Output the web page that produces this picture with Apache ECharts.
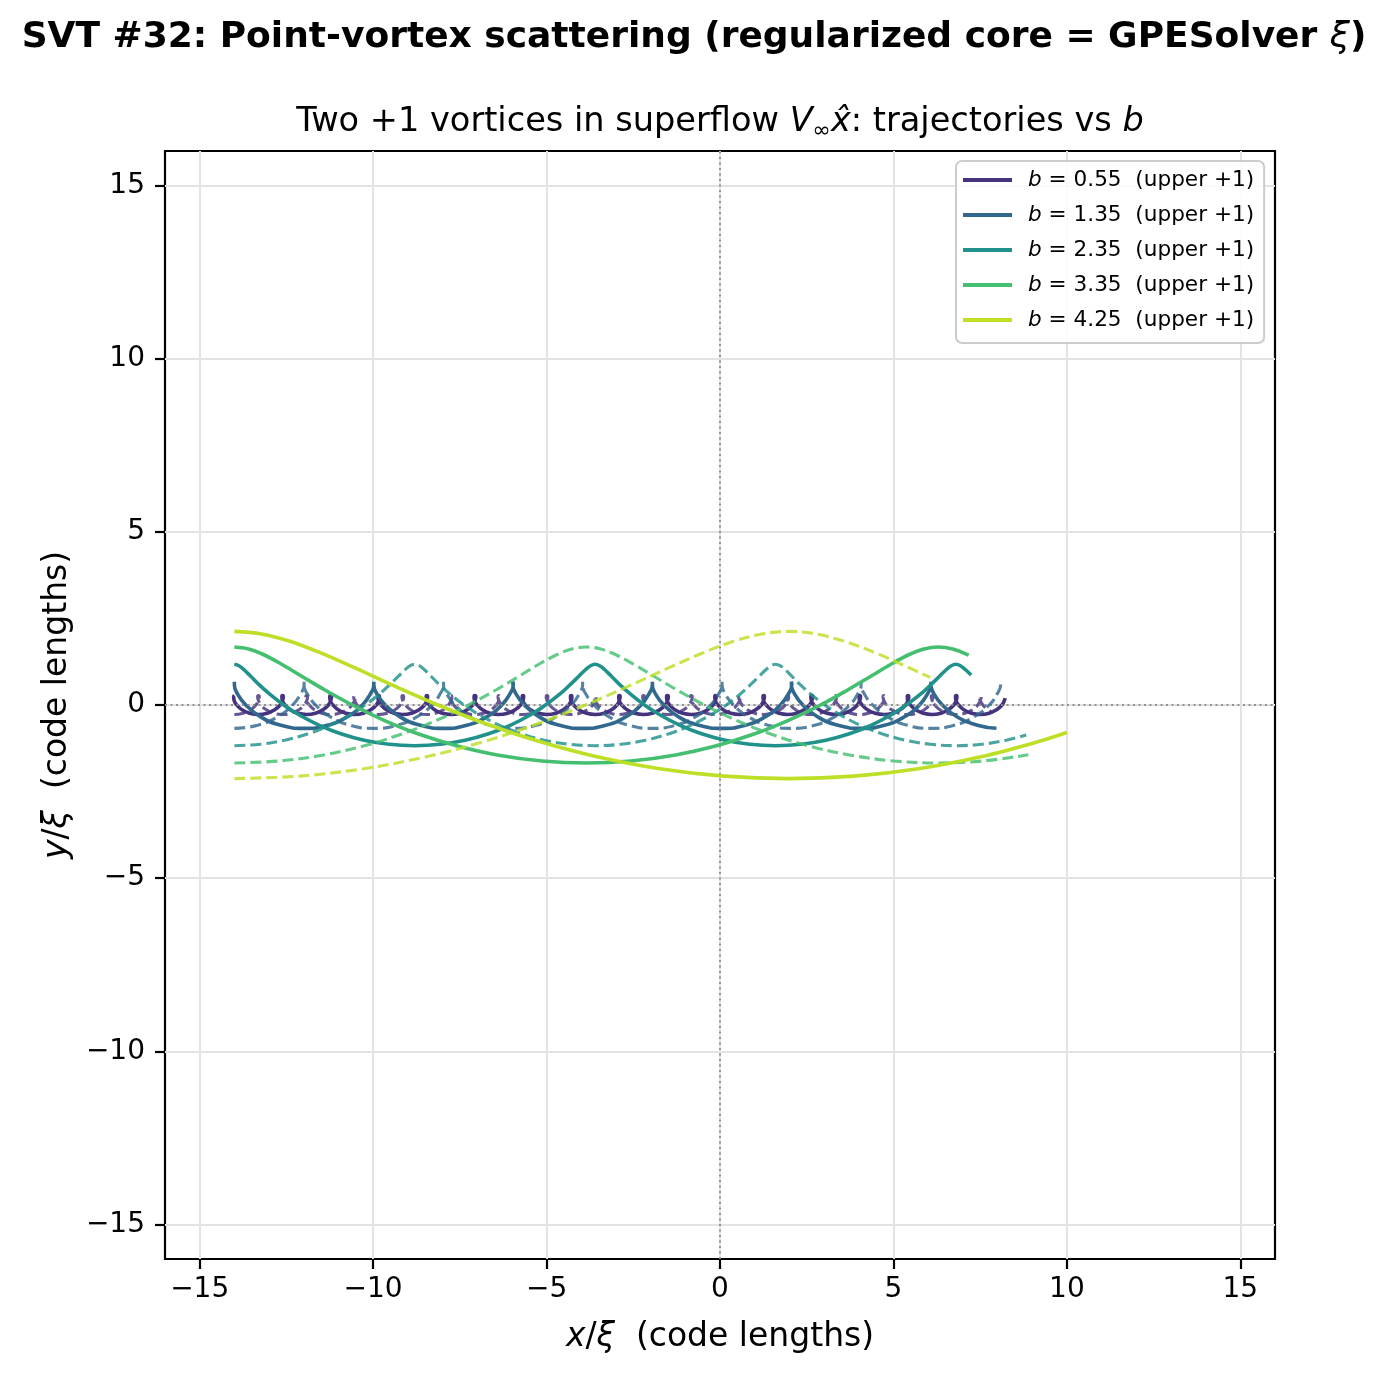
<!DOCTYPE html>
<html>
<head>
<meta charset="utf-8">
<script src="https://cdn.jsdelivr.net/npm/echarts@6/dist/echarts.min.js"></script>
<style>html,body{margin:0;padding:0;background:#fff;}#c{width:1388px;height:1375px;}</style>
</head>
<body>
<div id="c"></div>
<script>
// ---- data ----
const bValues = [0.55, 1.35, 2.35, 3.35, 4.25];
const colors = ['#46337e', '#31688e', '#21918c', '#44bf70', '#bddf26'];
const tickValues = [-15, -10, -5, 0, 5, 10, 15];

const upper055 = [
[-14,0.275],[-14.02,0.238],[-14.01,0.138],[-13.93,0],[-13.78,-0.138],[-13.56,-0.238],[-13.31,-0.275],[-13.05,-0.238],[-12.84,-0.138],[-12.68,0],[-12.61,0.138],[-12.59,0.238],
[-12.61,0.275],[-12.63,0.238],[-12.62,0.138],[-12.54,0],[-12.39,-0.138],[-12.17,-0.238],[-11.92,-0.275],[-11.66,-0.238],[-11.45,-0.138],[-11.29,0],[-11.22,0.138],[-11.20,0.238],
[-11.23,0.275],[-11.25,0.238],[-11.24,0.138],[-11.16,0],[-11.01,-0.138],[-10.79,-0.238],[-10.54,-0.275],[-10.28,-0.238],[-10.07,-0.138],[-9.91,0],[-9.84,0.138],[-9.82,0.238],
[-9.84,0.275],[-9.86,0.238],[-9.85,0.138],[-9.77,0],[-9.62,-0.138],[-9.40,-0.238],[-9.15,-0.275],[-8.89,-0.238],[-8.68,-0.138],[-8.52,0],[-8.45,0.138],[-8.43,0.238],
[-8.45,0.275],[-8.47,0.238],[-8.46,0.138],[-8.38,0],[-8.23,-0.138],[-8.01,-0.238],[-7.76,-0.275],[-7.50,-0.238],[-7.29,-0.138],[-7.13,0],[-7.06,0.138],[-7.04,0.238],
[-7.07,0.275],[-7.09,0.238],[-7.08,0.138],[-7.00,0],[-6.85,-0.138],[-6.63,-0.238],[-6.38,-0.275],[-6.12,-0.238],[-5.91,-0.138],[-5.75,0],[-5.68,0.138],[-5.66,0.238],
[-5.68,0.275],[-5.70,0.238],[-5.69,0.138],[-5.61,0],[-5.46,-0.138],[-5.24,-0.238],[-4.99,-0.275],[-4.73,-0.238],[-4.52,-0.138],[-4.36,0],[-4.29,0.138],[-4.27,0.238],
[-4.29,0.275],[-4.31,0.238],[-4.30,0.138],[-4.22,0],[-4.07,-0.138],[-3.85,-0.238],[-3.60,-0.275],[-3.34,-0.238],[-3.13,-0.138],[-2.97,0],[-2.90,0.138],[-2.88,0.238],
[-2.90,0.275],[-2.92,0.238],[-2.91,0.138],[-2.83,0],[-2.68,-0.138],[-2.46,-0.238],[-2.21,-0.275],[-1.95,-0.238],[-1.74,-0.138],[-1.58,0],[-1.51,0.138],[-1.49,0.238],
[-1.52,0.275],[-1.54,0.238],[-1.53,0.138],[-1.45,0],[-1.30,-0.138],[-1.08,-0.238],[-0.83,-0.275],[-0.57,-0.238],[-0.36,-0.138],[-0.20,0],[-0.13,0.138],[-0.11,0.238],
[-0.13,0.275],[-0.15,0.238],[-0.14,0.138],[-0.06,0],[0.09,-0.138],[0.31,-0.238],[0.56,-0.275],[0.82,-0.238],[1.03,-0.138],[1.19,0],[1.26,0.138],[1.28,0.238],
[1.26,0.275],[1.24,0.238],[1.25,0.138],[1.33,0],[1.48,-0.138],[1.70,-0.238],[1.95,-0.275],[2.21,-0.238],[2.42,-0.138],[2.58,0],[2.65,0.138],[2.67,0.238],
[2.64,0.275],[2.62,0.238],[2.63,0.138],[2.71,0],[2.86,-0.138],[3.08,-0.238],[3.33,-0.275],[3.59,-0.238],[3.80,-0.138],[3.96,0],[4.03,0.138],[4.05,0.238],
[4.03,0.275],[4.01,0.238],[4.02,0.138],[4.10,0],[4.25,-0.138],[4.47,-0.238],[4.72,-0.275],[4.98,-0.238],[5.19,-0.138],[5.35,0],[5.42,0.138],[5.44,0.238],
[5.42,0.275],[5.40,0.238],[5.41,0.138],[5.49,0],[5.64,-0.138],[5.86,-0.238],[6.11,-0.275],[6.37,-0.238],[6.58,-0.138],[6.74,0],[6.81,0.138],[6.83,0.238],
[6.81,0.275],[6.79,0.238],[6.80,0.138],[6.88,0],[7.03,-0.138],[7.25,-0.238],[7.50,-0.275],[7.76,-0.238],[7.97,-0.138],[8.13,0],[8.20,0.138],[8.22,0.200]
];
const lower055 = [
[-14,-0.275],[-13.75,-0.238],[-13.53,-0.138],[-13.38,0],[-13.30,0.138],[-13.28,0.238],[-13.31,0.275],[-13.33,0.238],[-13.31,0.138],[-13.23,0],[-13.08,-0.138],[-12.87,-0.238],
[-12.61,-0.275],[-12.36,-0.238],[-12.14,-0.138],[-11.99,0],[-11.91,0.138],[-11.89,0.238],[-11.92,0.275],[-11.94,0.238],[-11.92,0.138],[-11.84,0],[-11.69,-0.138],[-11.48,-0.238],
[-11.23,-0.275],[-10.98,-0.238],[-10.76,-0.138],[-10.61,0],[-10.53,0.138],[-10.51,0.238],[-10.54,0.275],[-10.56,0.238],[-10.54,0.138],[-10.46,0],[-10.31,-0.138],[-10.10,-0.238],
[-9.84,-0.275],[-9.59,-0.238],[-9.37,-0.138],[-9.22,0],[-9.14,0.138],[-9.12,0.238],[-9.15,0.275],[-9.17,0.238],[-9.15,0.138],[-9.07,0],[-8.92,-0.138],[-8.71,-0.238],
[-8.45,-0.275],[-8.20,-0.238],[-7.98,-0.138],[-7.83,0],[-7.75,0.138],[-7.73,0.238],[-7.76,0.275],[-7.78,0.238],[-7.76,0.138],[-7.68,0],[-7.53,-0.138],[-7.32,-0.238],
[-7.07,-0.275],[-6.82,-0.238],[-6.60,-0.138],[-6.45,0],[-6.37,0.138],[-6.35,0.238],[-6.38,0.275],[-6.40,0.238],[-6.38,0.138],[-6.30,0],[-6.15,-0.138],[-5.94,-0.238],
[-5.68,-0.275],[-5.43,-0.238],[-5.21,-0.138],[-5.06,0],[-4.98,0.138],[-4.96,0.238],[-4.99,0.275],[-5.01,0.238],[-4.99,0.138],[-4.91,0],[-4.76,-0.138],[-4.55,-0.238],
[-4.29,-0.275],[-4.04,-0.238],[-3.82,-0.138],[-3.67,0],[-3.59,0.138],[-3.57,0.238],[-3.60,0.275],[-3.62,0.238],[-3.60,0.138],[-3.52,0],[-3.37,-0.138],[-3.16,-0.238],
[-2.90,-0.275],[-2.65,-0.238],[-2.43,-0.138],[-2.28,0],[-2.20,0.138],[-2.18,0.238],[-2.21,0.275],[-2.23,0.238],[-2.21,0.138],[-2.13,0],[-1.98,-0.138],[-1.77,-0.238],
[-1.52,-0.275],[-1.27,-0.238],[-1.05,-0.138],[-0.90,0],[-0.82,0.138],[-0.80,0.238],[-0.83,0.275],[-0.85,0.238],[-0.83,0.138],[-0.75,0],[-0.60,-0.138],[-0.39,-0.238],
[-0.13,-0.275],[0.12,-0.238],[0.34,-0.138],[0.49,0],[0.57,0.138],[0.59,0.238],[0.56,0.275],[0.54,0.238],[0.56,0.138],[0.64,0],[0.79,-0.138],[1.00,-0.238],
[1.26,-0.275],[1.51,-0.238],[1.73,-0.138],[1.88,0],[1.96,0.138],[1.98,0.238],[1.95,0.275],[1.93,0.238],[1.95,0.138],[2.03,0],[2.18,-0.138],[2.39,-0.238],
[2.64,-0.275],[2.89,-0.238],[3.11,-0.138],[3.26,0],[3.34,0.138],[3.36,0.238],[3.33,0.275],[3.31,0.238],[3.33,0.138],[3.41,0],[3.56,-0.138],[3.77,-0.238],
[4.03,-0.275],[4.28,-0.238],[4.50,-0.138],[4.65,0],[4.73,0.138],[4.75,0.238],[4.72,0.275],[4.70,0.238],[4.72,0.138],[4.80,0],[4.95,-0.138],[5.16,-0.238],
[5.42,-0.275],[5.67,-0.238],[5.89,-0.138],[6.04,0],[6.12,0.138],[6.14,0.238],[6.11,0.275],[6.09,0.238],[6.11,0.138],[6.19,0],[6.34,-0.138],[6.55,-0.238],
[6.81,-0.275],[7.06,-0.238],[7.28,-0.138],[7.43,0],[7.51,0.138],[7.53,0.238],[7.50,0.275],[7.48,0.238],[7.50,0.138],[7.58,0],[7.73,-0.138],[7.84,-0.200]
];
const upper135 = [
[-14,0.675],[-14.00,0.585],[-13.92,0.338],[-13.67,0],[-13.25,-0.338],[-12.66,-0.585],[-11.99,-0.675],[-11.32,-0.585],[-10.74,-0.338],[-10.31,0],[-10.07,0.338],[-9.98,0.585],
[-9.98,0.675],[-9.98,0.585],[-9.90,0.338],[-9.65,0],[-9.23,-0.338],[-8.64,-0.585],[-7.97,-0.675],[-7.30,-0.585],[-6.72,-0.338],[-6.29,0],[-6.05,0.338],[-5.96,0.585],
[-5.97,0.675],[-5.97,0.585],[-5.89,0.338],[-5.64,0],[-5.22,-0.338],[-4.63,-0.585],[-3.96,-0.675],[-3.29,-0.585],[-2.71,-0.338],[-2.28,0],[-2.04,0.338],[-1.95,0.585],
[-1.95,0.675],[-1.95,0.585],[-1.87,0.338],[-1.62,0],[-1.20,-0.338],[-0.61,-0.585],[0.06,-0.675],[0.73,-0.585],[1.31,-0.338],[1.74,0],[1.98,0.338],[2.07,0.585],
[2.06,0.675],[2.06,0.585],[2.14,0.338],[2.39,0],[2.81,-0.338],[3.40,-0.585],[4.07,-0.675],[4.74,-0.585],[5.32,-0.338],[5.75,0],[5.99,0.338],[6.08,0.585],
[6.08,0.675],[6.08,0.585],[6.16,0.338],[6.41,0],[6.83,-0.338],[7.42,-0.585],[7.97,-0.672]
];
const lower135 = [
[-14,-0.675],[-13.33,-0.585],[-12.75,-0.338],[-12.32,0],[-12.08,0.338],[-11.99,0.585],[-11.99,0.675],[-11.99,0.585],[-11.91,0.338],[-11.66,0],[-11.24,-0.338],[-10.66,-0.585],
[-9.98,-0.675],[-9.31,-0.585],[-8.73,-0.338],[-8.30,0],[-8.06,0.338],[-7.97,0.585],[-7.97,0.675],[-7.97,0.585],[-7.89,0.338],[-7.64,0],[-7.22,-0.338],[-6.64,-0.585],
[-5.97,-0.675],[-5.30,-0.585],[-4.72,-0.338],[-4.29,0],[-4.05,0.338],[-3.96,0.585],[-3.96,0.675],[-3.96,0.585],[-3.88,0.338],[-3.63,0],[-3.21,-0.338],[-2.63,-0.585],
[-1.95,-0.675],[-1.28,-0.585],[-0.70,-0.338],[-0.27,0],[-0.03,0.338],[0.06,0.585],[0.06,0.675],[0.06,0.585],[0.14,0.338],[0.39,0],[0.81,-0.338],[1.39,-0.585],
[2.06,-0.675],[2.73,-0.585],[3.31,-0.338],[3.74,0],[3.98,0.338],[4.07,0.585],[4.07,0.675],[4.07,0.585],[4.15,0.338],[4.40,0],[4.82,-0.338],[5.40,-0.585],
[6.08,-0.675],[6.75,-0.585],[7.33,-0.338],[7.76,0],[8.00,0.338],[8.09,0.585],[8.09,0.672]
];
const upper235 = [
[-14,1.175],[-13.87,1.135],[-13.72,1.018],[-13.53,0.831],[-13.29,0.588],[-12.97,0.304],[-12.58,0],[-12.10,-0.304],[-11.55,-0.588],[-10.93,-0.831],[-10.26,-1.018],[-9.54,-1.135],
[-8.80,-1.175],[-8.06,-1.135],[-7.35,-1.018],[-6.67,-0.831],[-6.05,-0.588],[-5.50,-0.304],[-5.03,0],[-4.63,0.304],[-4.32,0.588],[-4.07,0.831],[-3.88,1.018],[-3.73,1.135],
[-3.60,1.175],[-3.47,1.135],[-3.32,1.018],[-3.13,0.831],[-2.89,0.588],[-2.57,0.304],[-2.18,0],[-1.70,-0.304],[-1.15,-0.588],[-0.53,-0.831],[0.15,-1.018],[0.86,-1.135],
[1.60,-1.175],[2.34,-1.135],[3.05,-1.018],[3.73,-0.831],[4.35,-0.588],[4.90,-0.304],[5.37,0],[5.77,0.304],[6.08,0.588],[6.33,0.831],[6.52,1.018],[6.67,1.135],
[6.80,1.175],[6.93,1.135],[7.08,1.018],[7.24,0.864]
];
const lower235 = [
[-14,-1.175],[-13.26,-1.135],[-12.55,-1.018],[-11.87,-0.831],[-11.25,-0.588],[-10.70,-0.304],[-10.23,0],[-9.83,0.304],[-9.52,0.588],[-9.27,0.831],[-9.08,1.018],[-8.93,1.135],
[-8.80,1.175],[-8.67,1.135],[-8.52,1.018],[-8.33,0.831],[-8.09,0.588],[-7.77,0.304],[-7.38,0],[-6.90,-0.304],[-6.35,-0.588],[-5.73,-0.831],[-5.06,-1.018],[-4.34,-1.135],
[-3.60,-1.175],[-2.86,-1.135],[-2.15,-1.018],[-1.47,-0.831],[-0.85,-0.588],[-0.30,-0.304],[0.18,0],[0.57,0.304],[0.88,0.588],[1.13,0.831],[1.32,1.018],[1.47,1.135],
[1.60,1.175],[1.73,1.135],[1.88,1.018],[2.07,0.831],[2.31,0.588],[2.63,0.304],[3.02,0],[3.50,-0.304],[4.05,-0.588],[4.67,-0.831],[5.34,-1.018],[6.06,-1.135],
[6.80,-1.175],[7.54,-1.135],[8.25,-1.018],[8.83,-0.864]
];
const upper335 = [
[-14,1.675],[-13.59,1.618],[-13.15,1.451],[-12.65,1.184],[-12.07,0.838],[-11.39,0.434],[-10.60,0],[-9.70,-0.434],[-8.69,-0.838],[-7.57,-1.184],[-6.38,-1.451],[-5.13,-1.618],
[-3.85,-1.675],[-2.57,-1.618],[-1.32,-1.451],[-0.13,-1.184],[0.98,-0.838],[1.99,-0.434],[2.90,0],[3.68,0.434],[4.36,0.838],[4.94,1.184],[5.44,1.451],[5.88,1.618],
[6.29,1.675],[6.71,1.618],[7.17,1.439]
];
const lower335 = [
[-14,-1.675],[-12.72,-1.618],[-11.47,-1.451],[-10.28,-1.184],[-9.17,-0.838],[-8.15,-0.434],[-7.25,0],[-6.46,0.434],[-5.78,0.838],[-5.21,1.184],[-4.71,1.451],[-4.27,1.618],
[-3.85,1.675],[-3.44,1.618],[-3.00,1.451],[-2.50,1.184],[-1.92,0.838],[-1.24,0.434],[-0.45,0],[0.45,-0.434],[1.46,-0.838],[2.57,-1.184],[3.77,-1.451],[5.02,-1.618],
[6.29,-1.675],[7.57,-1.618],[8.89,-1.439]
];
const upper425 = [
[-14,2.125],[-13.22,2.053],[-12.40,1.840],[-11.51,1.503],[-10.51,1.063],[-9.39,0.550],[-8.13,0],[-6.73,-0.550],[-5.18,-1.063],[-3.51,-1.503],[-1.74,-1.840],[0.11,-2.053],
[1.99,-2.125],[3.87,-2.053],[5.72,-1.840],[7.49,-1.503],[9.16,-1.063],[10.0,-0.796]
];
const lower425 = [
[-14,-2.125],[-12.12,-2.053],[-10.27,-1.840],[-8.50,-1.503],[-6.83,-1.063],[-5.28,-0.550],[-3.88,0],[-2.62,0.550],[-1.50,1.063],[-0.50,1.503],[0.39,1.840],[1.21,2.053],
[1.99,2.125],[2.77,2.053],[3.59,1.840],[4.49,1.503],[5.48,1.063],[6.06,0.796]
];

const uppers = [upper055, upper135, upper235, upper335, upper425];
const lowers = [lower055, lower135, lower235, lower335, lower425];
const smoothness = [0.5, 0.5, 0.35, 0.35, 0.35];

// ---- chart ----
const FONT = 'DejaVu Sans';
const chart = echarts.init(document.getElementById('c'), null, {renderer: 'canvas'});
const fmtTick = v => (v < 0 ? '\u2212' + Math.abs(v) : String(v));

const series = [{
  type: 'line', data: [], silent: true, z: 1,
  markLine: {
    silent: true, symbol: 'none', label: {show: false},
    lineStyle: {color: '#8a8a8a', width: 2, type: [2, 3.5], opacity: 0.9},
    data: [{xAxis: 0}, {yAxis: 0}]
  }
}];
const upperNames = [];
bValues.forEach((b, i) => {
  const nm = 'upper' + b.toFixed(2);
  upperNames.push(nm);
  series.push({
    name: nm, type: 'line', data: uppers[i], showSymbol: false, symbol: 'none',
    smooth: smoothness[i], z: 2 + i * 2, silent: true,
    itemStyle: {color: colors[i]},
    lineStyle: {color: colors[i], width: 3.6}
  });
  series.push({
    name: 'lower' + b.toFixed(2), type: 'line', data: lowers[i], showSymbol: false, symbol: 'none',
    smooth: smoothness[i], z: 3 + i * 2, silent: true,
    itemStyle: {color: colors[i]},
    lineStyle: {color: colors[i], width: 3.1, type: [11, 5], opacity: 0.82}
  });
});

const itRich = {fontFamily: FONT, fontStyle: 'italic', fontWeight: 'normal'};

chart.setOption({
  animation: false,
  backgroundColor: '#ffffff',
  title: [{
    text: 'SVT #32: Point-vortex scattering (regularized core = GPESolver {it|\u03be})',
    left: 'center', top: 20, padding: 0,
    textStyle: {fontFamily: FONT, fontWeight: 'bold', fontSize: 36, color: '#000', lineHeight: 36,
      rich: {it: Object.assign({fontSize: 36, color: '#000', lineHeight: 36}, itRich)}}
  }, {
    text: 'Two +1 vortices in superflow {it|V}{sub|\u221e}{it|x\u0302}: trajectories vs {it|b}',
    left: 720, textAlign: 'center', top: 102, padding: 0,
    textStyle: {fontFamily: FONT, fontWeight: 'normal', fontSize: 33.6, color: '#000', lineHeight: 40,
      rich: {
        it: Object.assign({fontSize: 33.6, color: '#000', lineHeight: 40}, itRich),
        sub: {fontFamily: FONT, fontSize: 22, color: '#000', lineHeight: 24, verticalAlign: 'bottom'}
      }}
  }],
  legend: {
    data: upperNames,
    orient: 'vertical', left: 956, top: 161,
    padding: [8, 10, 12, 7],
    icon: 'rect', itemWidth: 49, itemHeight: 4, itemGap: 13,
    backgroundColor: 'rgba(255,255,255,0.85)',
    borderColor: '#cccccc', borderWidth: 2, borderRadius: 6,
    selectedMode: false,
    formatter: name => '{i|b} = ' + name.replace('upper', '') + '  (upper +1)',
    textStyle: {fontFamily: FONT, fontSize: 21.6, color: '#000', lineHeight: 22, padding: [0, 0, 0, 11],
      rich: {i: Object.assign({fontSize: 21.6, color: '#000', lineHeight: 22}, itRich)}}
  },
  grid: {left: 165, right: 113, top: 151, bottom: 116, show: true, borderColor: '#000', borderWidth: 2.2, backgroundColor: 'transparent'},
  xAxis: {
    type: 'value', min: -16, max: 16,
    name: '{it|x}/{it|\u03be}  (code lengths)', nameLocation: 'middle', nameGap: 60,
    nameTextStyle: {fontFamily: FONT, fontSize: 33, color: '#000', lineHeight: 36,
      rich: {it: Object.assign({fontSize: 33, color: '#000', lineHeight: 36}, itRich)}},
    axisLine: {show: false, onZero: false},
    axisTick: {show: true, inside: false, length: 10, customValues: tickValues, lineStyle: {color: '#000', width: 2.2}},
    axisLabel: {customValues: tickValues, formatter: fmtTick, margin: 17, fontFamily: FONT, fontSize: 28, color: '#000'},
    splitLine: {show: true, lineStyle: {color: '#e3e3e3', width: 2}}
  },
  yAxis: {
    type: 'value', min: -16, max: 16,
    name: '{it|y}/{it|\u03be}  (code lengths)', nameLocation: 'middle', nameGap: 90, nameRotate: 90,
    nameTextStyle: {fontFamily: FONT, fontSize: 33, color: '#000', lineHeight: 36,
      rich: {it: Object.assign({fontSize: 33, color: '#000', lineHeight: 36}, itRich)}},
    axisLine: {show: false, onZero: false},
    axisTick: {show: true, inside: false, length: 10, customValues: tickValues, lineStyle: {color: '#000', width: 2.2}},
    axisLabel: {customValues: tickValues, formatter: fmtTick, margin: 20, fontFamily: FONT, fontSize: 28, color: '#000'},
    splitLine: {show: true, lineStyle: {color: '#e3e3e3', width: 2}}
  },
  series: series
});
</script>
</body>
</html>
